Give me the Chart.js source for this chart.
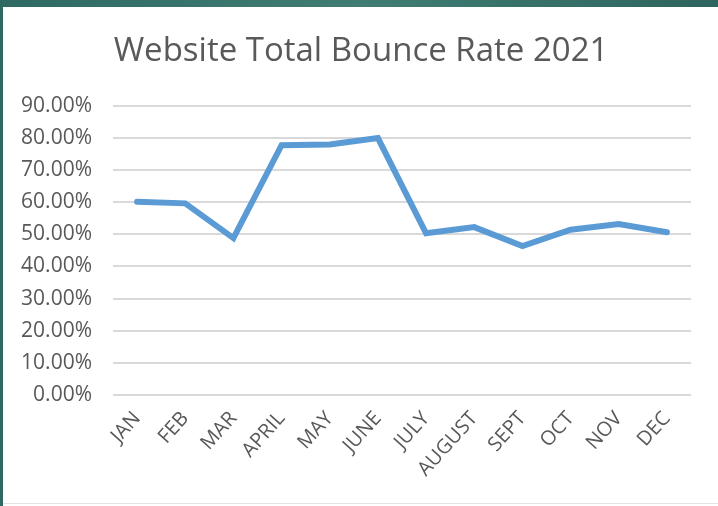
<!DOCTYPE html>
<html>
<head>
<meta charset="utf-8">
<script src="https://cdn.jsdelivr.net/npm/chart.js@4/dist/chart.umd.min.js"></script>
<style>
  html, body { margin: 0; padding: 0; background: #fff; }
  #wrap { position: relative; width: 718px; height: 506px; }
</style>
</head>
<body>
<div id="wrap"><canvas id="bounce" width="718" height="506"></canvas></div>
<script>
const months = ["JAN", "FEB", "MAR", "APRIL", "MAY", "JUNE", "JULY", "AUGUST", "SEPT", "OCT", "NOV", "DEC"];
const bounceRate = [0.601, 0.596, 0.488, 0.777, 0.779, 0.799, 0.503, 0.522, 0.463, 0.514, 0.532, 0.506];
const yTicks = [0, 0.1, 0.2, 0.3, 0.4, 0.5, 0.6, 0.7, 0.8, 0.9];

(() => {
  const frame = {
    id: "frame",
    afterLayout: (chart) => {
      // centre the title on the whole card, not on the padded box
      if (chart.titleBlock) {
        chart.titleBlock.left = 31;
        chart.titleBlock.right = 691;
      }
    },
    beforeDraw: (chart) => {
      const { ctx, width, height } = chart;
      ctx.save();
      const g = ctx.createLinearGradient(0, 0, width, 0);
      g.addColorStop(0, "#2f6a62");
      g.addColorStop(0.5, "#3f7d73");
      g.addColorStop(1, "#2e655e");
      ctx.fillStyle = g;
      ctx.fillRect(0, 0, width, height);
      ctx.fillStyle = "#ffffff";
      ctx.fillRect(3, 7, width - 3, height - 7);
      ctx.fillStyle = "#e3e3e3";
      ctx.fillRect(3, height - 3, width - 3, 1);
      ctx.restore();
    },
  };

  const ctx = document.getElementById("bounce");

  new Chart(ctx, {
    type: "line",
    data: {
      labels: months,
      datasets: [
        {
          data: bounceRate,
          borderColor: "#5b9bd5",
          borderWidth: 6,
          pointRadius: 0,
          tension: 0,
          borderCapStyle: "round",
          borderJoinStyle: "miter",
        },
      ],
    },
    plugins: [frame],
    options: {
      responsive: false,
      animation: false,
      layout: { padding: { left: 0, right: 27, top: 0, bottom: 0 } },
      plugins: {
        legend: { display: false },
        tooltip: { enabled: false },
        title: {
          display: true,
          text: "Website Total Bounce Rate 2021",
          color: "#595959",
          font: { family: "Open Sans", size: 33, weight: "normal", lineHeight: 1.2 },
          padding: { top: 32, bottom: 34 },
        },
      },
      scales: {
        x: {
          offset: true,
          border: { display: false },
          grid: { display: false, drawTicks: false },
          ticks: {
            color: "#595959",
            font: { family: "Open Sans", size: 20 },
            minRotation: 48,
            maxRotation: 48,
            padding: 12,
            autoSkip: false,
          },
          afterFit: (scale) => {
            scale.height = 506 - 395;
          },
        },
        y: {
          min: 0,
          max: 0.9,
          border: { display: false },
          grid: { color: "#d9d9d9", lineWidth: 2, drawTicks: false },
          afterBuildTicks: (scale) => {
            scale.ticks = yTicks.map((v) => ({ value: v }));
          },
          ticks: {
            color: "#595959",
            font: { family: "Open Sans", size: 21 },
            padding: 21,
            callback: (v) => (v * 100).toFixed(2) + "%",
          },
          afterFit: (scale) => {
            scale.width = 113;
          },
        },
      },
    },
  });
})();
</script>
</body>
</html>
